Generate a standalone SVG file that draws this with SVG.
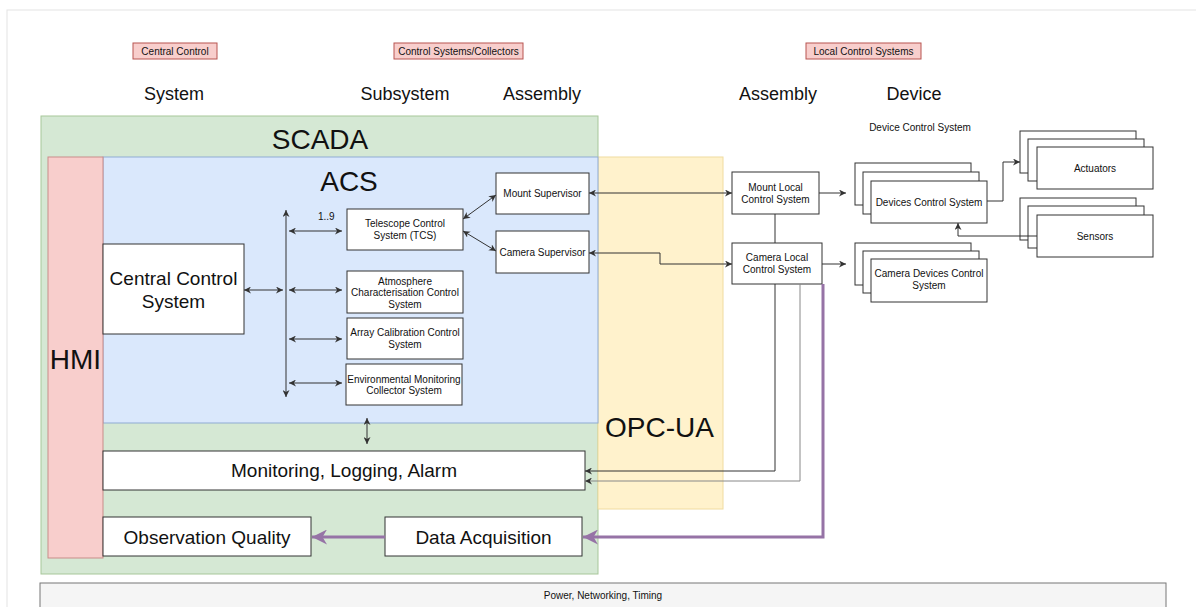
<svg xmlns="http://www.w3.org/2000/svg" width="1196" height="607" viewBox="0 0 1196 607">
<style>
text{font-family:"Liberation Sans",Arial,Helvetica,sans-serif;fill:#111;}
.big{font-size:28px;}
.hdr{font-size:18px;text-anchor:middle;}
.mid{font-size:19px;text-anchor:middle;}
.sm{font-size:10px;text-anchor:middle;}
.box{fill:#fff;stroke:#333;stroke-width:1;}
.tag{fill:#f8cecc;stroke:#b85450;stroke-width:1;}
.ln{fill:none;stroke:#333;stroke-width:1;}
.ln2{fill:none;stroke:#888;stroke-width:1;}
.pp{fill:none;stroke:#9673a6;stroke-width:3;}
</style>
<defs>
<marker id="a" viewBox="0 0 10 10" refX="10" refY="5" markerWidth="7" markerHeight="7" markerUnits="userSpaceOnUse" orient="auto-start-reverse"><path d="M0,0 L10,5 L0,10 L3,5 z" fill="#333"/></marker>
<marker id="p" viewBox="0 0 10 10" refX="10" refY="5" markerWidth="15" markerHeight="15" markerUnits="userSpaceOnUse" orient="auto-start-reverse"><path d="M0,0 L10,5 L0,10 L3,5 z" fill="#9673a6"/></marker>
</defs>
<rect x="0" y="0" width="1196" height="607" fill="#fff"/>
<rect x="7" y="10" width="1200" height="610" fill="#fff" stroke="#e4e4e4"/>

<g id="labels">
<rect class="tag" x="133" y="43" width="84" height="16"/>
<text class="sm" x="175" y="55">Central Control</text>
<rect class="tag" x="394" y="43" width="129" height="16"/>
<text class="sm" x="458.5" y="55">Control Systems/Collectors</text>
<rect class="tag" x="806" y="43" width="115" height="16"/>
<text class="sm" x="863.5" y="55">Local Control Systems</text>
<text class="hdr" x="174" y="100">System</text>
<text class="hdr" x="405" y="100">Subsystem</text>
<text class="hdr" x="542" y="100">Assembly</text>
<text class="hdr" x="778" y="100">Assembly</text>
<text class="hdr" x="914" y="100">Device</text>
<text class="sm" x="920" y="131">Device Control System</text>
</g>

<g id="scada">
<rect x="41" y="116" width="557" height="458" fill="#d5e8d4" stroke="#a7c79a"/>
<text class="big" x="320" y="149" text-anchor="middle">SCADA</text>
</g>
<g id="opcua">
<rect x="598" y="157" width="125" height="352" fill="#fff2cc" stroke="#f0dca0"/>
<text class="big" x="605" y="437">OPC-UA</text>
</g>
<g id="acs">
<rect x="103" y="157" width="495" height="266" fill="#dae8fc" stroke="#8fabd3"/>
<text class="big" x="349" y="191" text-anchor="middle">ACS</text>
</g>
<g id="hmi">
<rect x="48" y="157" width="55" height="401" fill="#f8cecc" stroke="#c98c89"/>
<text class="big" x="75.5" y="369" text-anchor="middle">HMI</text>
</g>

<g id="central-control-system">
<rect class="box" x="103" y="244" width="141" height="90"/>
<text class="mid" x="173.5" y="285">Central Control</text>
<text class="mid" x="173.5" y="308">System</text>
</g>
<g id="tcs">
<rect class="box" x="347" y="209" width="116" height="41"/>
<text class="sm" x="405" y="227">Telescope Control</text>
<text class="sm" x="405" y="239">System (TCS)</text>
</g>
<g id="atmosphere">
<rect class="box" x="347" y="271" width="116" height="42"/>
<text class="sm" x="405" y="284.5">Atmosphere</text>
<text class="sm" x="405" y="296">Characterisation Control</text>
<text class="sm" x="405" y="307.5">System</text>
</g>
<g id="array-calibration">
<rect class="box" x="347" y="318" width="116" height="41"/>
<text class="sm" x="405" y="336">Array Calibration Control</text>
<text class="sm" x="405" y="347.5">System</text>
</g>
<g id="environmental">
<rect class="box" x="346" y="364" width="116" height="41"/>
<text class="sm" x="404" y="382.5">Environmental Monitoring</text>
<text class="sm" x="404" y="394">Collector System</text>
</g>
<g id="mount-supervisor">
<rect class="box" x="496" y="173" width="93" height="41"/>
<text class="sm" x="542.5" y="197">Mount Supervisor</text>
</g>
<g id="camera-supervisor">
<rect class="box" x="496" y="231" width="93" height="42"/>
<text class="sm" x="542.5" y="255.5">Camera Supervisor</text>
</g>
<g id="monitoring">
<rect class="box" x="103" y="451" width="482" height="39"/>
<text class="mid" x="344" y="477">Monitoring, Logging, Alarm</text>
</g>
<g id="observation-quality">
<rect class="box" x="103" y="517" width="208" height="39"/>
<text class="mid" x="207" y="544">Observation Quality</text>
</g>
<g id="data-acquisition">
<rect class="box" x="385" y="517" width="197" height="39"/>
<text class="mid" x="483.5" y="544">Data Acquisition</text>
</g>
<g id="mount-local">
<rect class="box" x="732" y="172" width="87" height="42"/>
<text class="sm" x="775.5" y="191">Mount Local</text>
<text class="sm" x="775.5" y="203">Control System</text>
</g>
<g id="camera-local">
<rect class="box" x="732" y="243" width="90" height="41"/>
<text class="sm" x="777" y="261">Camera Local</text>
<text class="sm" x="777" y="273">Control System</text>
</g>
<g id="devices-control">
<rect class="box" x="855" y="163" width="116" height="42"/>
<rect class="box" x="863" y="172" width="116" height="42"/>
<rect class="box" x="871" y="181" width="116" height="42"/>
<text class="sm" x="929" y="205.5">Devices Control System</text>
</g>
<g id="camera-devices-control">
<rect class="box" x="855" y="243" width="116" height="42"/>
<rect class="box" x="863" y="251" width="116" height="42"/>
<rect class="box" x="871" y="259" width="116" height="43"/>
<text class="sm" x="929" y="277">Camera Devices Control</text>
<text class="sm" x="929" y="289">System</text>
</g>
<g id="actuators">
<rect class="box" x="1020" y="131" width="116" height="42"/>
<rect class="box" x="1028" y="139" width="116" height="42"/>
<rect class="box" x="1037" y="147" width="116" height="42"/>
<text class="sm" x="1095" y="171.5">Actuators</text>
</g>
<g id="sensors">
<rect class="box" x="1020" y="198" width="116" height="42"/>
<rect class="box" x="1028" y="206" width="116" height="42"/>
<rect class="box" x="1037" y="215" width="116" height="42"/>
<text class="sm" x="1095" y="239.5">Sensors</text>
</g>
<g id="power">
<rect x="40" y="583" width="1126" height="26" fill="#f5f5f5" stroke="#777"/>
<text class="sm" x="603" y="599">Power, Networking, Timing</text>
</g>

<g id="connectors">
<line class="ln" x1="286" y1="210" x2="286" y2="397" marker-start="url(#a)" marker-end="url(#a)"/>
<line class="ln" x1="244" y1="290" x2="283" y2="290" marker-start="url(#a)" marker-end="url(#a)"/>
<line class="ln" x1="289" y1="231" x2="342" y2="231" marker-start="url(#a)" marker-end="url(#a)"/>
<text x="318" y="220" font-size="10">1..9</text>
<line class="ln" x1="289" y1="290" x2="342" y2="290" marker-start="url(#a)" marker-end="url(#a)"/>
<line class="ln" x1="289" y1="339" x2="342" y2="339" marker-start="url(#a)" marker-end="url(#a)"/>
<line class="ln" x1="289" y1="383" x2="342" y2="383" marker-start="url(#a)" marker-end="url(#a)"/>
<line class="ln" x1="463" y1="219" x2="496" y2="195" marker-start="url(#a)" marker-end="url(#a)"/>
<line class="ln" x1="463" y1="231" x2="496" y2="251" marker-start="url(#a)" marker-end="url(#a)"/>
<line class="ln" x1="589" y1="193" x2="732" y2="193" marker-start="url(#a)" marker-end="url(#a)"/>
<polyline class="ln" points="589,253 660,253 660,264 732,264" marker-start="url(#a)" marker-end="url(#a)"/>
<line class="ln" x1="819" y1="193" x2="846" y2="193" marker-end="url(#a)"/>
<line class="ln" x1="822" y1="264" x2="846" y2="264" marker-end="url(#a)"/>
<line class="ln" x1="775" y1="214" x2="775" y2="243"/>
<polyline class="ln" points="987,201 1003,201 1003,162 1020,162" marker-end="url(#a)"/>
<polyline class="ln" points="1037,236 958,236 958,223" marker-end="url(#a)"/>
<polyline class="ln" points="775,284 775,471 585,471" marker-end="url(#a)"/>
<polyline class="ln2" points="800,284 800,481 585,481" marker-end="url(#a)"/>
<line class="ln" x1="367" y1="418" x2="367" y2="444" marker-start="url(#a)" marker-end="url(#a)"/>
<polyline class="pp" points="823,284 823,537 583,537" marker-end="url(#p)"/>
<line class="pp" x1="385" y1="537" x2="312" y2="537" marker-end="url(#p)"/>
</g>
</svg>
